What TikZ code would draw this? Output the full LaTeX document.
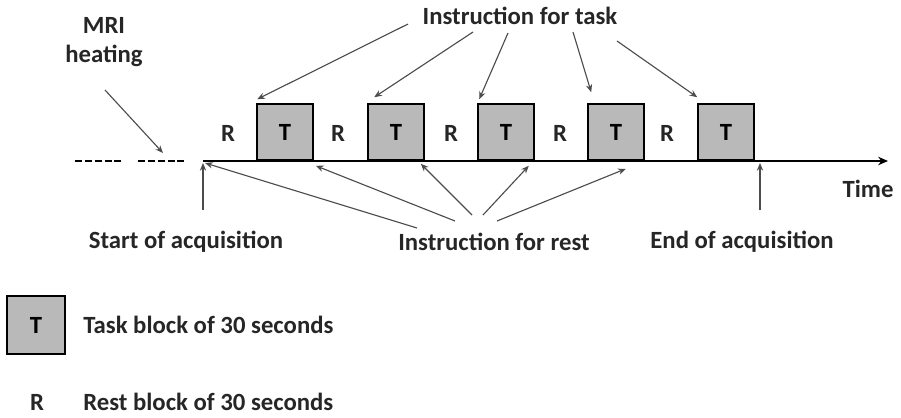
\documentclass[tikz,border=0pt]{standalone}
\usepackage{fontspec}
\setmainfont{Carlito}
\usetikzlibrary{arrows.meta}
\tikzset{
    tbox/.style={draw=black,fill=gray!55,line width=1.1pt,minimum size=1.4cm,inner sep=0pt},
    lbl/.style={inner sep=0pt,text=black!85},
    pointer/.style={-{Stealth[length=5.5pt,width=4.5pt]},draw=black!70,line width=0.8pt},
}
\begin{document}
\begin{tikzpicture}[x=0.025cm,y=-0.025cm,font=\bfseries\fontsize{17.6}{21}\selectfont]
    \useasboundingbox (0,0) rectangle (901,417);
    % time axis
    \coordinate (a0) at (203,161); \coordinate (a1) at (888,161);
    \draw[-{Stealth[length=7pt,width=6pt]},line width=1pt] (a0) -- (a1);
    \draw[line width=1pt,dash pattern=on 5pt off 2pt] (75,161) -- (123,161);
    \draw[line width=1pt,dash pattern=on 5pt off 2pt] (138,161) -- (186,161);
    \node[lbl] (time) at (868,189) {Time};
    % blocks
    \node[lbl] (r1) at (228,133) {R};
    \node[tbox] (t1) at (285,132) {T};
    \node[lbl] (r2) at (338,133) {R};
    \node[tbox] (t2) at (396,132) {T};
    \node[lbl] (r3) at (451,133) {R};
    \node[tbox] (t3) at (506,132) {T};
    \node[lbl] (r4) at (560,133) {R};
    \node[tbox] (t4) at (616,132) {T};
    \node[lbl] (r5) at (667,133) {R};
    \node[tbox] (t5) at (726,132) {T};
    % labels
    \node[lbl] (task) at (520,16) {Instruction for task};
    \node[lbl,align=center] (mri) at (104,42) {MRI\\heating};
    \node[lbl] (start) at (186,242) {Start of acquisition};
    \node[lbl] (rest) at (494,242) {Instruction for rest};
    \node[lbl] (end) at (742,242) {End of acquisition};
    % instruction for task
    \coordinate (k1) at (408,24); \coordinate (k2) at (473,32); \coordinate (k3) at (508,33);
    \coordinate (k4) at (573,32); \coordinate (k5) at (617,41);
    \draw[pointer] (k1) -- ([shift={(1,-4)}]t1.north west);
    \draw[pointer] (k2) -- ([shift={(7,-6)}]t2.north west);
    \draw[pointer] (k3) -- ([shift={(2,-4)}]t3.north west);
    \draw[pointer] (k4) -- ([shift={(4,-11)}]t4.north west);
    \draw[pointer] (k5) -- ([shift={(0,-6)}]t5.north west);
    % instruction for rest
    \coordinate (q1) at (417,228); \coordinate (q2) at (455,221); \coordinate (q3) at (472,215);
    \coordinate (q4) at (483,215); \coordinate (q5) at (497,221);
    \draw[pointer] (q1) -- ([shift={(2,2)}]a0);
    \draw[pointer] (q2) -- ([shift={(2,5)}]t1.south east);
    \draw[pointer] (q3) -- ([shift={(-4,3)}]t2.south east);
    \draw[pointer] (q4) -- ([shift={(-6,5)}]t3.south east);
    \draw[pointer] (q5) -- ([shift={(-19,8)}]t4.south east);
    % start / end / heating
    \coordinate (s0) at (203,210); \coordinate (e0) at (760,210); \coordinate (e1) at (760,163);
    \coordinate (h0) at (105,90); \coordinate (h1) at (163,153);
    \draw[pointer] (s0) -- ([shift={(0,2)}]a0);
    \draw[pointer] (e0) -- (e1);
    \draw[pointer] (h0) -- (h1);
    % legend
    \node[tbox,minimum size=1.45cm] (lt) at (36,325) {T};
    \node[lbl,anchor=west] (ltext) at (83,325) {Task block of 30 seconds};
    \node[lbl] (lr) at (37,402) {R};
    \node[lbl,anchor=west] (lrtext) at (83,402) {Rest block of 30 seconds};
\end{tikzpicture}
\end{document}
